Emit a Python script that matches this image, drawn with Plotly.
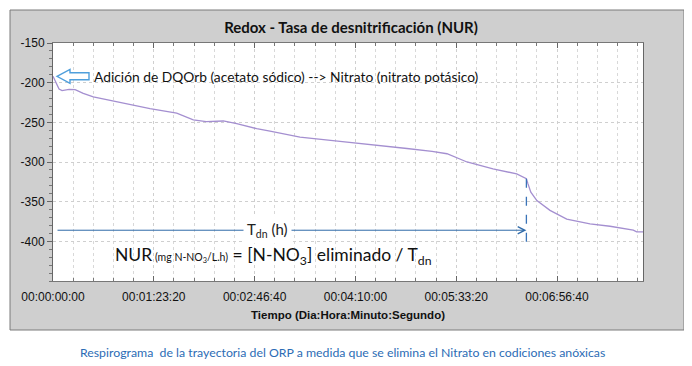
import plotly.graph_objects as go

# ---- data ----
time_s = [0, 120, 300, 450, 800, 1100, 1500, 2000, 3160, 4811, 6135, 6959, 7600,
          8120, 8447, 9112, 10104, 10763, 12251, 14235, 15872, 17558, 18800, 19542,
          20534, 21824, 23000, 23300, 23480, 23560, 23700, 24000, 24651, 25480,
          26635, 27627, 28783, 28950, 29264]
orp_mv = [-192, -199, -208, -210, -208.5, -208.7, -213.5, -218, -224.3, -232.7,
          -238.5, -247, -249, -248.7, -248.3, -251.6, -258, -261, -268.6, -274,
          -278, -283, -286.5, -289.6, -300, -308.6, -315, -318.5, -321, -327.6,
          -338, -348.7, -361, -372, -378, -381, -385.8, -388, -388]

x_tick_vals = [0, 5000, 10000, 15000, 20000, 25000]
x_tick_labels = ["00:00:00:00", "00:01:23:20", "00:02:46:40",
                 "00:04:10:00", "00:05:33:20", "00:06:56:40"]
y_tick_vals = [-150, -200, -250, -300, -350, -400]
y_tick_labels = ["-150", "-200", "-250", "-300", "-350", "-400"]

tdn_start = 150          # start of T_dn arrow (s)
tdn_end = 23480          # end of denitrification (s)
tdn_level = -386         # mV level of the T_dn arrow
dash_bottom = -404       # lower end of dashed marker
nur_x, nur_y = 2980, -418
tdn_label_x = 10660
note_x, note_y = 1934, -192

title_text = "Redox - Tasa de desnitrificación (NUR)"
xaxis_title = "Tiempo (Dia:Hora:Minuto:Segundo)"
note_text = "Adición de DQOrb (acetato sódico) --> Nitrato (nitrato potásico)"
caption_text = ("Respirograma  de la trayectoria del ORP a medida que se elimina "
                "el Nitrato en codiciones anóxicas")

CAL = "Lato, 'Open Sans', sans-serif"
ARIAL = "'Liberation Sans', Arial, sans-serif"

fig = go.Figure()
fig.add_trace(go.Scatter(x=time_s, y=orp_mv, mode="lines",
                         line=dict(color="#a48fd0", width=1.3),
                         hoverinfo="skip", showlegend=False))

end_val = orp_mv[time_s.index(tdn_end)]
fig.add_trace(go.Scatter(x=[tdn_end, tdn_end], y=[end_val, dash_bottom], mode="lines",
                         line=dict(color="#3a74b8", width=1.3, dash="dash"),
                         hoverinfo="skip", showlegend=False))

OFF = 8  # page body margin
W, H = 692 - OFF, 366 - OFF
ml, mr, mt, mb = 53 - OFF, 49, 43 - OFF, 85
pw, ph = W - ml - mr, H - mt - mb

def px_x(p):
    return (p - OFF - ml) / pw

def px_y(p):
    return (H - mb - (p - OFF)) / ph

shapes = [
    dict(type="rect", xref="paper", yref="paper",
         x0=px_x(10), x1=px_x(684), y0=px_y(330), y1=px_y(10),
         fillcolor="#cfcfcf", line=dict(color="#7a7a7a", width=1), layer="below"),
    dict(type="rect", xref="paper", yref="paper", x0=0, x1=1, y0=0, y1=1,
         fillcolor="white", line=dict(width=0), layer="below"),
    dict(type="path", xref="x", yref="y", xsizemode="pixel", ysizemode="pixel",
         xanchor=0, yanchor=orp_mv[0],
         path="M4,0 L17,7 L17,3.5 L36,3.5 L36,-3.5 L17,-3.5 L17,-7 Z",
         fillcolor="white", line=dict(color="#4f9fdc", width=1.4)),
]

annotations = [
    dict(x=tdn_end, y=tdn_level, ax=tdn_start, ay=tdn_level, axref="x", ayref="y",
         xref="x", yref="y", text="", showarrow=True, arrowhead=5, arrowsize=1.4,
         arrowwidth=1, arrowcolor="#2f6aa8"),
    dict(x=tdn_label_x, y=tdn_level, xref="x", yref="y", showarrow=False,
         text="T<sub>dn</sub> (h)", font=dict(family=CAL, size=15, color="#222"),
         bgcolor="white", borderpad=3),
    dict(x=nur_x, y=nur_y, xref="x", yref="y", showarrow=False, xanchor="left",
         text=("NUR<span style='font-size:10.5px'> (mg N-NO<sub>3</sub>/L.h)</span>"
               " = [N-NO<sub>3</sub>] eliminado / T<sub>dn</sub>"),
         font=dict(family=CAL, size=17.5, color="#111")),
    dict(x=note_x, y=note_y, xref="x", yref="y", showarrow=False, xanchor="left",
         text=note_text, font=dict(family=CAL, size=13.8, color="#111")),
    dict(x=px_x(342), y=px_y(352), xref="paper", yref="paper", showarrow=False,
         xanchor="center", yanchor="middle",
         text=caption_text, font=dict(family=CAL, size=12.3, color="#2c6cb5")),
]

fig.update_layout(
    width=W, height=H,
    margin=dict(l=ml, r=mr, t=mt, b=mb),
    paper_bgcolor="white",
    plot_bgcolor="rgba(0,0,0,0)",
    title=dict(text="<b>" + title_text + "</b>", x=(351 - OFF) / W,
               y=1 - (28 - OFF) / H, xanchor="center", yanchor="middle",
               font=dict(family=CAL, size=15, color="#111")),
    shapes=shapes,
    annotations=annotations,
    showlegend=False,
    xaxis=dict(range=[0, time_s[-1]], tickvals=x_tick_vals, ticktext=x_tick_labels,
               ticks="inside", ticklen=5, tickcolor="#666", mirror="allticks",
               showline=True, linecolor="#777", linewidth=1,
               showgrid=True, gridcolor="#cfcfcf", griddash="dot", gridwidth=1,
               minor=dict(dtick=1000, tick0=0, ticks="inside", ticklen=3,
                          tickcolor="#777", showgrid=True, gridcolor="#d8d8d8",
                          griddash="dot"),
               zeroline=False, ticklabelstandoff=5,
               tickfont=dict(family=ARIAL, size=12, color="#111")),
    yaxis=dict(range=[-450, -150], tickvals=y_tick_vals, ticktext=y_tick_labels,
               ticks="outside", ticklen=5, tickcolor="#666", mirror=True,
               showline=True, linecolor="#666", linewidth=1,
               showgrid=True, gridcolor="#cfcfcf", griddash="dot", gridwidth=1,
               minor=dict(dtick=10, tick0=0, ticks="outside", ticklen=3,
                          tickcolor="#777", showgrid=False),
               zeroline=False,
               tickfont=dict(family=ARIAL, size=12, color="#111")),
)
fig.update_xaxes(title=dict(text="<b>" + xaxis_title + "</b>", standoff=7,
                            font=dict(family=ARIAL, size=11.5, color="#111")))

fig.write_html("out.html")
